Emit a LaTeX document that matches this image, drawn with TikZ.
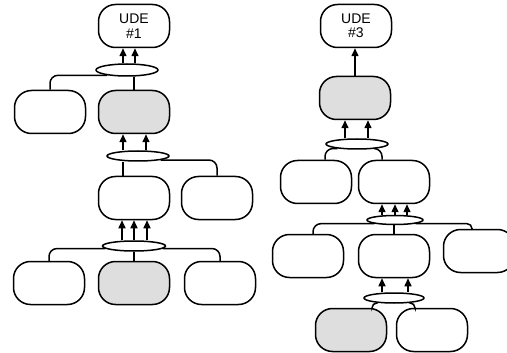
\documentclass[tikz,border=0pt]{standalone}
\usepackage{fontspec}
\setsansfont{Liberation Sans}
\usetikzlibrary{shapes.geometric,arrows.meta}

\begin{document}
\begin{tikzpicture}[x=1pt,y=-1pt,line width=1.5pt,
    cbox/.style={draw,rounded corners=17pt,minimum width=71pt,minimum height=43pt,inner sep=0pt},
    gbox/.style={cbox,fill=black!13},
    ude/.style={cbox,font=\sffamily\fontsize{14}{14.5}\selectfont,align=center},
    joint/.style={draw,ellipse,fill=white,inner sep=0pt,minimum width=62pt,minimum height=10pt},
    arr/.style={-{Triangle[length=8pt,width=7pt]}},
    link/.style={rounded corners=8pt}]
    \clip (0,0) rectangle (507,353);
    \node[ude] (ude1) at (134,26) {UDE\\\#1};
    \node[ude] (ude3) at (356,26) {UDE\\\#3};
    \foreach \n/\x/\y in {b1/50/112,b2/134/198,b3/217/198,b4/49/283,b5/220/283,
        b6/316/182,b7/394/182,b8/308/256,b9/394/256,b10/479/251,b11/432/330}
        {\node[cbox] (\n) at (\x,\y) {};}
    \foreach \n/\x/\y in {s1/134/112,s2/134/283,s3/355/98,s4/351/330}
        {\node[gbox] (\n) at (\x,\y) {};}
    \node[joint,minimum height=12pt] (e1) at (127,70) {};
    \node[joint] (e2) at (138,156) {};
    \node[joint,minimum width=63pt] (e3) at (134,246) {};
    \node[joint] (e4) at (357,144) {};
    \node[joint,minimum width=56pt,minimum height=9pt] (e5) at (395,220) {};
    \node[joint,minimum width=60pt] (e6) at (394,298) {};

    \foreach \d in {-11,1}{\draw[arr] ([xshift=\d]ude1.south |- e1.north) -- ([xshift=\d]ude1.south);}
    \draw[link] (e1.195) -| (b1.north);
    \draw (s1.north) -- (s1.north |- e1.south);
    \foreach \d in {-11,12}{\draw[arr] ([xshift=\d]s1.south |- e2.north) -- ([xshift=\d]s1.south);}
    \draw ([xshift=-11]b2.north) -- ([xshift=-11]b2.north |- e2.south);
    \draw[link] (e2.350) -| (b3.north);
    \foreach \d in {-12,0,13}{\draw[arr] ([xshift=\d]b2.south |- e3.north) -- ([xshift=\d]b2.south);}
    \draw[link] (e3.185) -| (b4.north);
    \draw (s2.north) -- (s2.north |- e3.south);
    \draw[link] (e3.355) -| (b5.north);

    \draw[arr] (s3.north) -- (s3.north |- ude3.south);
    \foreach \d in {-10,13}{\draw[arr] ([xshift=\d]s3.south |- e4.north) -- ([xshift=\d]s3.south);}
    \draw[link] (e4.193) -| ([xshift=9]b6.north);
    \draw[link] (e4.347) -| ([xshift=-12]b7.north);
    \foreach \d in {-12,1,13}{\draw[arr] ([xshift=\d]b7.south |- e5.north) -- ([xshift=\d]b7.south);}
    \draw[link] (e5.190) -| ([xshift=5]b8.north);
    \draw (b9.north) -- (b9.north |- e5.south);
    \draw[link,rounded corners=5pt] (e5.350) -| ([xshift=-7]b10.north);
    \foreach \d in {-12,14}{\draw[arr] ([xshift=\d]b9.south |- e6.north) -- ([xshift=\d]b9.south);}
    \draw[link,rounded corners=5pt] (e6.197) -| ([xshift=21]s4.north);
    \draw[link,rounded corners=5pt] (e6.343) -| ([xshift=-17]b11.north);
\end{tikzpicture}
\end{document}
